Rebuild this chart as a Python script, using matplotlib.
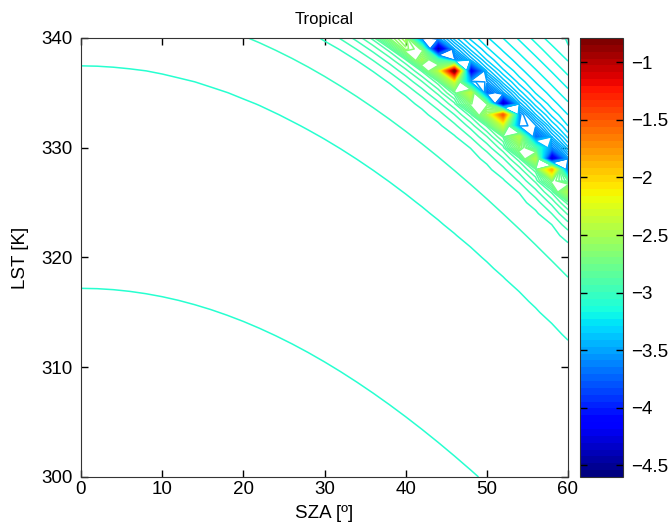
import numpy as np
import matplotlib
matplotlib.use("Agg")
import matplotlib.pyplot as plt
from matplotlib import colors, cm

plt.rcParams['font.family'] = ['Liberation Sans', 'DejaVu Sans']

## retrieval grid (solar zenith angle [deg] x land surface temperature [K])
sza = np.arange(0.0, 60.1, 2.0)
lst = np.arange(300.0, 340.1, 1.0)

## contour interval and colour limits
zmin, zmax = -4.60, -0.79
dz = 0.03

## field profile across the iso-curves, s = equivalent nadir LST [K]
s_knots = [290.0, 317.2, 337.5, 343.2, 346.5, 347.5, 348.3, 348.9, 349.4, 349.8,
           350.2, 350.6, 351.0, 351.4, 351.9, 352.4, 352.9, 353.4, 353.9, 354.5,
           355.2, 356.0, 357.0, 358.0, 359.2, 360.4, 361.6, 362.9, 364.2, 370.0]
z_knots = [-3.12, -3.10, -3.07, -3.04, -3.01, -2.98, -2.95, -2.92, -2.89, -2.86,
           -2.83, -2.65, -2.47, -2.33, -2.75, -3.35, -3.76, -3.64, -3.55, -3.46,
           -3.39, -3.33, -3.28, -3.25, -3.22, -3.19, -3.16, -3.13, -3.10, -3.09]
gain = 50.0  # K per unit of (1 - cos SZA)

## isolated extremes inside the unstable band: (SZA, LST, value)
spot_sza = [46.0, 52.0, 58.0, 44.0, 48.0, 52.0, 58.0]
spot_lst = [337.0, 333.0, 328.0, 339.0, 337.0, 334.0, 329.0]
spot_val = [-0.79, -1.50, -1.85, -4.60, -4.30, -4.50, -4.45]


def pchip(xk, yk, x):
    ## monotone cubic (Fritsch-Carlson) through the profile knots
    xk = np.asarray(xk); yk = np.asarray(yk)
    h = np.diff(xk)
    d = np.diff(yk)/h
    m = np.zeros_like(yk)
    m[0], m[-1] = d[0], d[-1]
    for k in range(1, len(xk)-1):
        if d[k-1]*d[k] > 0:
            w1 = 2*h[k] + h[k-1]
            w2 = h[k] + 2*h[k-1]
            m[k] = (w1 + w2)/(w1/d[k-1] + w2/d[k])
    x = np.clip(x, xk[0], xk[-1])
    i = np.clip(np.searchsorted(xk, x) - 1, 0, len(h)-1)
    t = (x - xk[i])/h[i]
    h00 = 2*t**3 - 3*t**2 + 1
    h10 = t**3 - 2*t**2 + t
    h01 = -2*t**3 + 3*t**2
    h11 = t**3 - t**2
    return h00*yk[i] + h10*h[i]*m[i] + h01*yk[i+1] + h11*h[i]*m[i+1]


SZA, LST = np.meshgrid(sza, lst)
S = LST + gain*(1.0 - np.cos(np.radians(SZA)))
Z = pchip(s_knots, np.array(z_knots) + 1e-5, S)
for a, t, v in zip(spot_sza, spot_lst, spot_val):
    Z[np.argmin(np.abs(lst - t)), np.argmin(np.abs(sza - a))] = v

levels = zmin + dz*np.arange(int(round((zmax - zmin)/dz)) + 1)
jet = plt.get_cmap('jet', 64)
norm = colors.Normalize(vmin=zmin, vmax=zmax)

fig = plt.figure(figsize=(6.71, 5.29), dpi=100)
ax = fig.add_axes([81/671, 1-477/529, 487/671, 439/529])
ax.contour(SZA, LST, Z, levels=levels, cmap=jet, norm=norm, linewidths=1.1)
ax.set_xlim(0, 60)
ax.set_ylim(300, 340)
ax.set_xticks(np.arange(0, 61, 10))
ax.set_yticks(np.arange(300, 341, 10))
ax.tick_params(direction='in', top=True, right=True, length=5, labelsize=13.5, width=1)
ax.tick_params(axis='x', pad=3)
ax.tick_params(axis='y', pad=6)
for sp in ax.spines.values():
    sp.set_color('#333333')
ax.set_xlabel('SZA [º]', fontsize=13.5, labelpad=5)
ax.set_ylabel('LST [K]', fontsize=13.5, labelpad=9)
ax.set_title('Tropical', fontsize=12, pad=10)

cax = fig.add_axes([580/671, 1-477/529, 43/671, 439/529])
cb = fig.colorbar(cm.ScalarMappable(norm=norm, cmap=jet), cax=cax)
cb_ticks = [-4.5, -4.0, -3.5, -3.0, -2.5, -2.0, -1.5, -1.0]
cb.set_ticks(cb_ticks)
cb.set_ticklabels(['{:g}'.format(v).replace('-', '\u2212') for v in cb_ticks])
cb.ax.tick_params(direction='in', left=True, right=True, length=5, labelsize=13.5, width=1, pad=6)
cb.outline.set_edgecolor('#333333')

fig.savefig('out.png', dpi=100)
